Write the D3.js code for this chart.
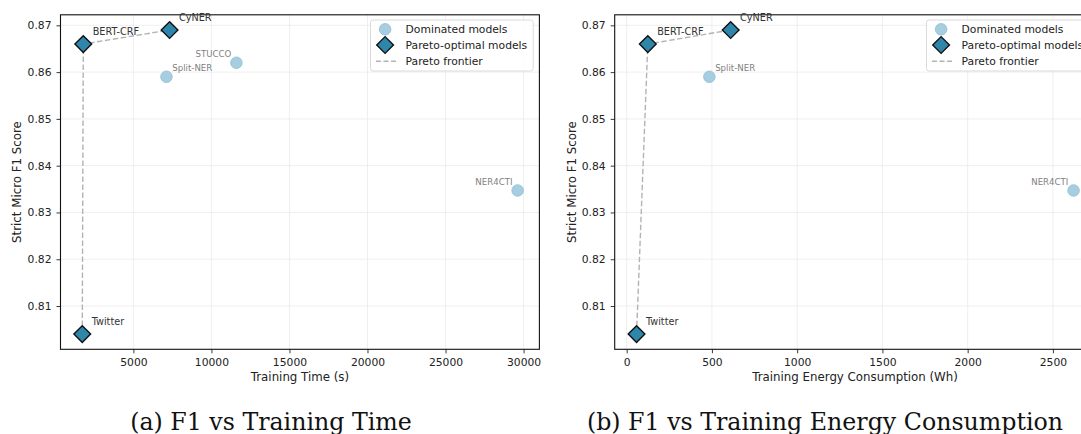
<!DOCTYPE html>
<html>
<head>
<meta charset="utf-8">
<script src="https://cdn.jsdelivr.net/npm/d3@7"></script>
<style>
  body { margin: 0; background: #fff; }
  svg { display: block; font-family: "DejaVu Sans", sans-serif; }
</style>
</head>
<body>
<svg id="chart" width="1081" height="434"></svg>
<script>
// model data
const models = ["Twitter", "BERT-CRF", "CyNER", "Split-NER", "STUCCO", "NER4CTI"];
const f1Scores = [0.804, 0.866, 0.869, 0.859, 0.862, 0.8347];
const trainTimeSec = [1725, 1790, 7320, 7120, 11600, 29620];
const trainEnergyWh = [58, 124, 610, 485, null, 2621];   // STUCCO has no energy figure

// tick labels
const timeTicks = [5000, 10000, 15000, 20000, 25000, 30000];
const energyTicks = [0, 500, 1000, 1500, 2000, 2500];
const f1Ticks = [0.81, 0.82, 0.83, 0.84, 0.85, 0.86, 0.87];

const legendLabels = ["Dominated models", "Pareto-optimal models", "Pareto frontier"];

// layout of the two subplots (the right one runs past the page edge)
const panels = [
    { xs: trainTimeSec, ticks: timeTicks, xLabel: "Training Time (s)",
      caption: "(a) F1 vs Training Time", left: 60.5, right: 539.4, ylab: 17.4, capX: 271 },
    { xs: trainEnergyWh, ticks: energyTicks, xLabel: "Training Energy Consumption (Wh)",
      caption: "(b) F1 vs Training Energy Consumption", left: 614.7, right: 1095.4, ylab: 572.4, capX: 825 }
];
const plotTop = 14.8, plotBottom = 349.3;

const domColor = "#a6cde0", domStroke = "#8fbfd6";
const paretoColor = "#2e86ab";
const frontierColor = "#b3b3b3";
const tickFont = 10.75, labelFont = 11.8;
// labels of dominated points which sit on the left side of the marker
const leftLabels = ["STUCCO", "NER4CTI"];

const svg = d3.select("#chart");

// matplotlib style autoscale, 5% margin
function padExtent(vals) {
    let [a, b] = d3.extent(vals);
    let m = (b - a) * 0.05;
    return [a - m, b + m];
}

const y = d3.scaleLinear()
    .domain(padExtent(f1Scores))
    .range([plotBottom, plotTop]);

panels.forEach(p => {
    let pts = models.map((m, i) => ({ name: m, x: p.xs[i], y: f1Scores[i] }))
        .filter(d => d.x != null);

    // pareto frontier: sweep by cost, keep points beating the best score so far
    let sorted = pts.slice().sort((a, b) => a.x - b.x);
    let best = -Infinity;
    let frontier = [];
    sorted.forEach(d => {
        if (d.y > best) { frontier.push(d); best = d.y; }
    });
    let dominated = pts.filter(d => !frontier.includes(d));

    let x = d3.scaleLinear()
        .domain(padExtent(pts.map(d => d.x)))
        .range([p.left, p.right]);

    let g = svg.append("g");

    // grid
    g.append("g").selectAll("line")
        .data(p.ticks)
        .join("line")
        .attr("x1", d => x(d)).attr("x2", d => x(d))
        .attr("y1", plotTop).attr("y2", plotBottom)
        .attr("stroke", "#ebebeb").attr("stroke-width", 0.8);
    g.append("g").selectAll("line")
        .data(f1Ticks)
        .join("line")
        .attr("x1", p.left).attr("x2", p.right)
        .attr("y1", d => y(d)).attr("y2", d => y(d))
        .attr("stroke", "#ebebeb").attr("stroke-width", 0.8);

    // axes
    let xAxis = g.append("g")
        .attr("transform", `translate(0,${plotBottom})`)
        .call(d3.axisBottom(x).tickValues(p.ticks).tickFormat(d3.format("d")).tickSize(4).tickPadding(5))
        .call(g => g.select(".domain").remove());
    let yAxis = g.append("g")
        .attr("transform", `translate(${p.left},0)`)
        .call(d3.axisLeft(y).tickValues(f1Ticks).tickFormat(d3.format(".2f")).tickSize(4).tickPadding(5))
        .call(g => g.select(".domain").remove());
    [xAxis, yAxis].forEach(a => {
        a.selectAll("text").attr("font-size", tickFont).attr("fill", "#222")
            .attr("font-family", "DejaVu Sans");
        a.selectAll("line").attr("stroke", "#222").attr("stroke-width", 0.9);
    });

    // frame
    g.append("rect")
        .attr("x", p.left).attr("y", plotTop)
        .attr("width", p.right - p.left).attr("height", plotBottom - plotTop)
        .attr("fill", "none").attr("stroke", "#111").attr("stroke-width", 1.1);

    // axis titles
    g.append("text")
        .attr("x", (p.left + p.right) / 2).attr("y", 381)
        .attr("text-anchor", "middle").attr("font-size", labelFont).attr("fill", "#222")
        .text(p.xLabel);
    g.append("text")
        .attr("transform", `translate(${p.ylab},${(plotTop + plotBottom) / 2}) rotate(-90)`)
        .attr("text-anchor", "middle").attr("dominant-baseline", "central")
        .attr("font-size", labelFont).attr("fill", "#222")
        .text("Strict Micro F1 Score");

    // frontier
    let line = d3.line().x(d => x(d.x)).y(d => y(d.y));
    g.append("path")
        .datum(frontier)
        .attr("d", line)
        .attr("fill", "none")
        .attr("stroke", frontierColor)
        .attr("stroke-width", 1.4)
        .attr("stroke-dasharray", "5.5,2.5");

    // dominated points
    g.append("g").selectAll("circle")
        .data(dominated)
        .join("circle")
        .attr("cx", d => x(d.x)).attr("cy", d => y(d.y))
        .attr("r", 5.8)
        .attr("fill", domColor).attr("stroke", domStroke).attr("stroke-width", 0.8);
    g.append("g").selectAll("text")
        .data(dominated)
        .join("text")
        .attr("x", d => x(d.x) + (leftLabels.includes(d.name) ? -5.2 : 5.8))
        .attr("y", d => y(d.y) - 5.5)
        .attr("text-anchor", d => leftLabels.includes(d.name) ? "end" : "start")
        .attr("font-size", 8.6).attr("fill", "#7f7f7f")
        .text(d => d.name);

    // pareto-optimal points
    let diamond = d3.symbol().type(d3.symbolSquare).size(140);
    g.append("g").selectAll("path")
        .data(frontier)
        .join("path")
        .attr("d", diamond)
        .attr("transform", d => `translate(${x(d.x)},${y(d.y)}) rotate(45)`)
        .attr("fill", paretoColor).attr("stroke", "#111").attr("stroke-width", 1.4);
    g.append("g").selectAll("text")
        .data(frontier)
        .join("text")
        .attr("x", d => x(d.x) + 9.4)
        .attr("y", d => y(d.y) - 9)
        .attr("font-size", 9.7).attr("fill", "#333")
        .text(d => d.name);

    // legend
    let lw = 162.7;
    let lx = p.right - 6.2 - lw, ly = 20;
    let lg = g.append("g").attr("transform", `translate(${lx},${ly})`);
    lg.append("rect")
        .attr("width", lw).attr("height", 51).attr("rx", 2.5)
        .attr("fill", "white").attr("fill-opacity", 0.85)
        .attr("stroke", "#d6d6d6").attr("stroke-width", 0.9);
    let rows = [9.3, 25, 41.3];
    lg.append("circle").attr("cx", 14.6).attr("cy", rows[0]).attr("r", 5.8)
        .attr("fill", domColor).attr("stroke", domStroke).attr("stroke-width", 0.8);
    lg.append("path").attr("d", diamond)
        .attr("transform", `translate(14.6,${rows[1]}) rotate(45)`)
        .attr("fill", paretoColor).attr("stroke", "#111").attr("stroke-width", 1.4);
    lg.append("line").attr("x1", 5.5).attr("x2", 25.5).attr("y1", rows[2]).attr("y2", rows[2])
        .attr("stroke", frontierColor).attr("stroke-width", 1.4).attr("stroke-dasharray", "5,2.5");
    lg.selectAll("text.leg")
        .data(legendLabels)
        .join("text")
        .attr("class", "leg")
        .attr("x", 35.1).attr("y", (d, i) => rows[i])
        .attr("dominant-baseline", "central")
        .attr("font-size", tickFont).attr("fill", "#222")
        .text(d => d);

    // subfigure caption
    svg.append("text")
        .attr("x", p.capX).attr("y", 430)
        .attr("text-anchor", "middle")
        .attr("font-family", "DejaVu Serif").attr("font-size", 23.7)
        .attr("fill", "#111")
        .text(p.caption);
});
</script>
</body>
</html>
